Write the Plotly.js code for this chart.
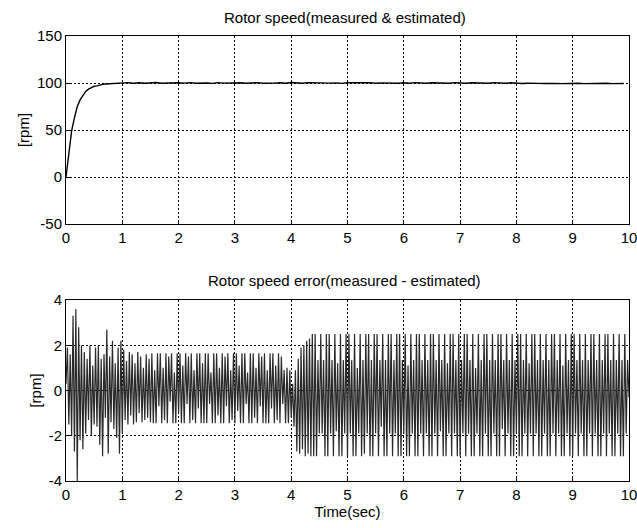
<!DOCTYPE html>
<html>
<head>
<meta charset="utf-8">
<script src="https://cdn.plot.ly/plotly-3.0.1.min.js"></script>
<style>html,body{margin:0;padding:0;background:#fff;}#chart{width:637px;height:528px;}</style>
</head>
<body>
<div id="chart"></div>
<script>
// ---- Top panel: rotor speed (measured & estimated), rpm ----
const speedTime = [0,0.05,0.1,0.15,0.2,0.25,0.3,0.35,0.4,0.45,0.5,0.55,0.6,0.65,0.7,0.75,0.8,0.85,0.9,0.95,1.0,
  1.1,1.2,1.3,1.4,1.5,1.6,1.7,1.8,1.9,2.0,2.1,2.2,2.3,2.4,2.5,2.6,2.7,2.8,2.9,3.0,3.1,3.2,3.3,3.4,3.5,3.6,3.7,3.8,3.9,
  4.0,4.1,4.2,4.3,4.4,4.5,4.6,4.7,4.8,4.9,5.0,5.1,5.2,5.3,5.4,5.5,5.6,5.7,5.8,5.9,6.0,6.1,6.2,6.3,6.4,6.5,6.6,6.7,6.8,6.9,
  7.0,7.1,7.2,7.3,7.4,7.5,7.6,7.7,7.8,7.9,8.0,8.1,8.2,8.3,8.4,8.5,8.6,8.7,8.8,8.9,9.0,9.1,9.2,9.3,9.4,9.5,9.6,9.7,9.8,9.9,10.0];
const speedRpm = [0,27,49,63,75,82,87,91,93.5,95,96.5,97,98,98.6,99,99.2,99.5,99.7,99.8,99.9,100,
  100.4,99.8,100.3,99.7,100.2,100.5,99.8,100.1,99.6,100.3,99.9,100.4,99.7,100.2,100.0,99.6,100.4,99.9,100.2,99.7,100.3,99.8,100.1,100.4,99.7,100.2,99.9,100.3,99.8,
  100.6,100.1,99.7,100.4,100.2,99.8,100.3,99.9,100.1,99.6,100.3,100.0,99.7,100.2,100.4,99.8,100.1,99.9,100.3,99.7,100.2,99.8,100.4,100.0,99.7,100.3,99.9,100.2,99.8,100.4,
  100.1,99.7,100.3,99.9,100.2,99.8,100.4,100.0,99.8,100.2,99.6,99.4,99.7,99.3,99.6,99.4,99.7,99.5,99.3,99.6,99.4,99.7,99.3,99.5,99.6,99.4,99.7,99.3,99.6,99.5];

// ---- Bottom panel: speed error (measured - estimated), rpm, sampled every errStep seconds ----
const errStep = 0.025;
const errStart = [0.3,
  1.9,-1.5, 1.6,-2.0, 3.3,-2.7, 3.6,-4.0, 2.8,-2.2, 2.0,-2.6, 1.7,-1.9, 1.4,-1.3, 2.0,-2.0, 1.1,-1.5,
  1.9,-1.6, 2.0,-2.4, 1.4,-2.9, 1.6,-1.2, 2.7,-2.8, 1.5,-1.4, 2.2,-1.7, 1.2,-2.1, 1.9,-2.8, 2.2,-1.9,
  1.8,-1.3, 1.3,-1.5, 1.7,-1.1, 1.6,-1.5, 1.2,-1.4, 1.7,-1.0, 1.5,-1.4, 1.0,-1.3, 1.6,-1.2, 1.4,-1.4];
const errMid = [
  1.65,-1.45, 0.9,-1.45, 1.65,-0.7, 1.65,-1.45, 1.0,-1.3, 1.65,-1.45, 1.5,-0.5, 1.65,-1.45, 0.8,-1.45, 1.65,-1.0,
  1.65,-1.45, 1.1,-1.45, 1.65,-0.6, 1.5,-1.45, 1.65,-1.3, 0.9,-1.45, 1.65,-0.8, 1.65,-1.45, 1.2,-1.45, 1.65,-1.45,
  1.65,-0.6, 0.8,-1.45, 1.65,-1.45, 1.65,-1.1, 1.0,-1.45, 1.65,-1.45, 1.5,-0.7, 1.65,-1.45, 0.9,-1.3, 1.65,-1.45,
  1.65,-0.9, 1.1,-1.45, 1.65,-1.45, 1.65,-0.6, 0.8,-1.45, 1.65,-1.45, 1.65,-1.2, 1.0,-1.45, 1.65,-0.7, 1.5,-1.45,
  1.65,-1.45, 0.9,-1.45, 1.65,-0.8, 1.65,-1.45, 1.1,-1.3, 1.65,-1.45, 1.5,-0.6, 0.9,-1.45, 1.0,-1.45, 0.9,-1.2];
const errShift = [0.3,-1.6, 0.9,-2.7, 1.4,-2.8, 1.9,-2.6, 2.0,-2.9, 2.2,-2.8, 2.3,-2.9, 2.5,-2.9];
const errEnd = [
  2.5,-2.9, 1.35,-1.9, 2.5,-1.9, 1.35,-2.9, 2.5,-2.9, 2.5,-1.9, 1.35,-2.9, 2.5,-1.8, 1.2,-2.9, 2.5,-2.9,
  1.35,-1.9, 2.5,-2.9, 2.5,-1.9, 1.35,-2.9, 2.5,-2.9, 1.0,-1.9, 2.5,-2.9, 1.35,-2.8, 2.5,-1.9, 2.5,-2.9,
  1.35,-2.9, 2.5,-1.9, 2.5,-2.9, 1.35,-1.6, 2.5,-2.9, 1.35,-2.9, 2.5,-1.9, 2.5,-2.9, 1.35,-1.9, 2.5,-2.9,
  2.5,-2.9, 1.35,-1.9, 2.5,-2.9, 1.1,-2.9, 2.5,-1.9, 1.35,-2.9, 2.5,-2.9, 2.5,-1.9, 1.35,-2.9, 2.5,-1.9,
  1.35,-2.9, 2.5,-2.9, 2.5,-1.9, 1.35,-2.9, 2.5,-1.8, 1.35,-2.9, 2.5,-2.9, 1.2,-1.9, 2.5,-2.9, 2.5,-1.9,
  1.35,-2.9, 2.5,-2.9, 1.35,-1.9, 2.5,-2.9, 2.5,-1.9, 1.35,-2.9, 2.5,-2.9, 1.0,-1.9, 2.5,-2.9, 1.35,-2.9,
  2.5,-1.9, 2.5,-2.9, 1.35,-2.9, 2.5,-1.9, 1.35,-2.9, 2.5,-2.9, 2.5,-1.7, 1.35,-2.9, 2.5,-1.9, 1.35,-2.9,
  2.5,-2.9, 1.35,-1.9, 2.5,-2.9, 2.5,-2.9, 1.35,-1.9, 2.5,-2.9, 1.2,-1.9, 2.5,-2.9, 2.5,-1.9, 1.35,-2.9,
  2.5,-2.9, 1.35,-1.9, 2.5,-2.9, 1.35,-2.9, 2.5,-1.9, 2.5,-2.9, 1.35,-1.9, 2.5,-2.9, 1.1,-2.9, 2.5,-1.9,
  1.35,-2.9, 2.5,-2.9, 2.5,-1.9, 1.35,-2.9, 2.5,-1.9, 1.35,-2.9, 2.5,-2.9, 1.35,-1.9, 2.5,-2.9, 2.5,-1.9,
  1.35,-2.9, 2.5,-2.9, 1.35,-1.9, 2.5,-2.9, 2.5,-1.9, 1.35,-2.9, 2.5,-2.9, 1.35,-1.9, 2.5,-2.9, 1.35,-2.9,
  2.5,-1.9, 1.35,-0.3];

// ---- Tick labels and texts ----
const xTickVals = [0,1,2,3,4,5,6,7,8,9,10];
const xTickText = ["0","1","2","3","4","5","6","7","8","9","10"];
const speedTickVals = [-50,0,50,100,150];
const speedTickText = ["-50","0","50","100","150"];
const errTickVals = [-4,-2,0,2,4];
const errTickText = ["-4","-2","0","2","4"];
const topTitle = "Rotor speed(measured & estimated)";
const bottomTitle = "Rotor speed error(measured - estimated)";
const yLabel = "[rpm]";
const xLabel = "Time(sec)";

const errValues = errStart.concat(errMid, errShift, errEnd);
const errTime = errValues.map((_, i) => +(i * errStep).toFixed(4));

const FONT = "Liberation Sans, Arial, Helvetica, sans-serif";

const traces = [
  {x: speedTime, y: speedRpm, type: "scatter", mode: "lines", xaxis: "x", yaxis: "y",
   line: {color: "#000", width: 1.4}, hoverinfo: "skip"},
  {x: errTime, y: errValues, type: "scatter", mode: "lines", xaxis: "x2", yaxis: "y2",
   line: {color: "#2a2a2a", width: 1.2}, hoverinfo: "skip"}
];

function axisBase(extra) {
  return Object.assign({
    showgrid: true, gridcolor: "#000", gridwidth: 1, griddash: "2px,2px",
    zeroline: false, showline: true, mirror: true, linecolor: "#000", linewidth: 1,
    ticks: "inside", ticklen: 4, tickcolor: "#000", tickmode: "array",
    ticklabeloverflow: "allow",
    tickfont: {family: FONT, size: 15, color: "#000"},
    fixedrange: true
  }, extra);
}

const layout = {
  width: 637, height: 528,
  margin: {l: 66, r: 8, t: 36, b: 47},
  paper_bgcolor: "#fff", plot_bgcolor: "#fff",
  showlegend: false,
  font: {family: FONT, color: "#000"},
  xaxis: axisBase({domain: [0, 1], range: [0, 10], tickvals: xTickVals, ticktext: xTickText, anchor: "y"}),
  yaxis: axisBase({domain: [0.5775, 1], range: [-50, 150], tickvals: speedTickVals, ticktext: speedTickText, anchor: "x",
    title: {text: yLabel, font: {family: FONT, size: 15, color: "#000"}, standoff: 3}}),
  xaxis2: axisBase({domain: [0, 1], range: [0, 10], tickvals: xTickVals, ticktext: xTickText, anchor: "y2",
    title: {text: xLabel, font: {family: FONT, size: 15, color: "#000"}, standoff: 0}}),
  yaxis2: axisBase({domain: [0, 0.4067], range: [-4, 4], tickvals: errTickVals, ticktext: errTickText, anchor: "x2",
    title: {text: yLabel, font: {family: FONT, size: 15, color: "#000"}, standoff: 3}}),
  annotations: [
    {text: topTitle, xref: "paper", yref: "paper", x: 0.495, y: 1, yshift: 19, showarrow: false,
     xanchor: "center", yanchor: "middle", font: {family: FONT, size: 15, color: "#000"}},
    {text: bottomTitle, xref: "paper", yref: "paper", x: 0.495, y: 0.4067, yshift: 20, showarrow: false,
     xanchor: "center", yanchor: "middle", font: {family: FONT, size: 15, color: "#000"}}
  ]
};

Plotly.newPlot("chart", traces, layout, {displayModeBar: false, staticPlot: true});
</script>
</body>
</html>
